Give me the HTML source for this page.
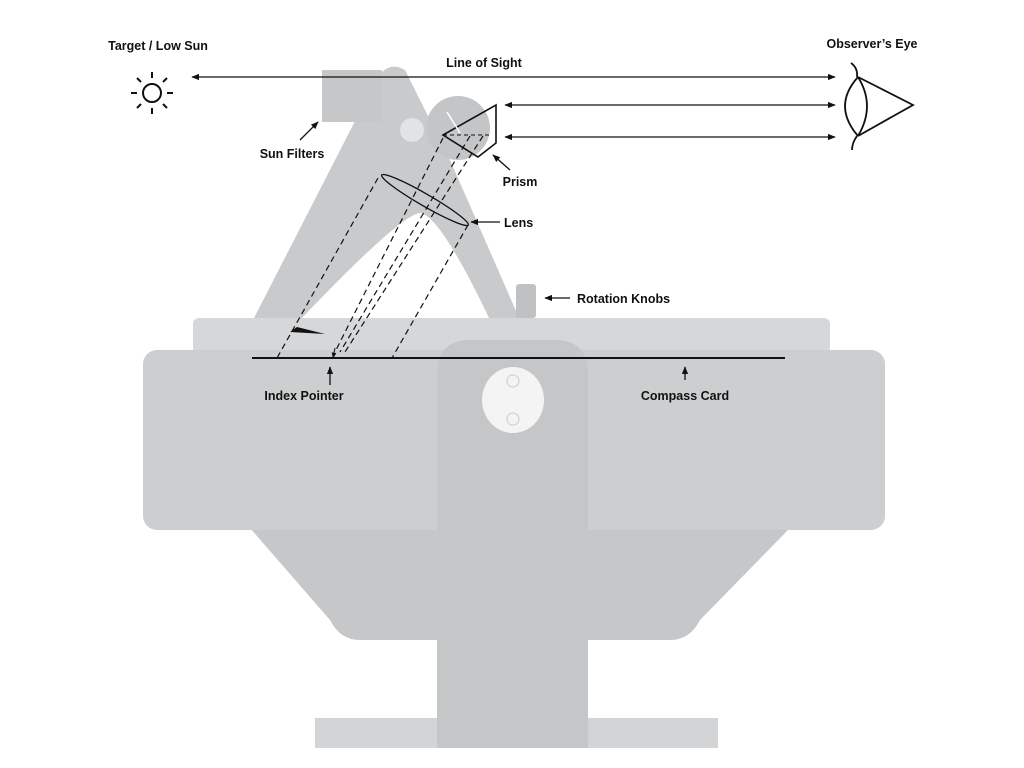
<!DOCTYPE html>
<html><head><style>
html,body{margin:0;padding:0;background:#fff;}
svg{display:block;}
text{font-family:"Liberation Sans",sans-serif;font-weight:bold;font-size:12.5px;fill:#111;}
</style></head><body>
<svg width="1024" height="768" viewBox="0 0 1024 768">
<defs>
<marker id="ah" viewBox="0 0 10 10" refX="9" refY="5" markerWidth="6" markerHeight="6" orient="auto-start-reverse"><path d="M0,1 L10,5 L0,9 z" fill="#111"/></marker>
</defs>
<!-- arm frame -->
<path d="M253,320 L372,88 Q385,58 405,70 L450,160 L520,320 L490,320 Q440,215 420,213 Q400,215 300,320 Z" fill="#c9cacb"/>
<rect x="322" y="70" width="60" height="52" fill="#c6c7c8"/>
<circle cx="458" cy="128" r="32" fill="#c4c5c6"/>
<circle cx="412" cy="130" r="12" fill="#e2e3e4"/>
<rect x="516" y="284" width="20" height="34" rx="3" fill="#c0c1c2"/>
<!-- body -->
<rect x="193" y="318" width="637" height="36" rx="6" fill="#d6d7d8"/>
<path d="M250,528 L790,528 L700,620 Q690,640 670,640 L360,640 Q340,640 330,620 Z" fill="#c6c7c8"/>
<rect x="143" y="350" width="742" height="180" rx="14" fill="#cdcecf"/>
<rect x="315" y="718" width="403" height="30" fill="#d3d4d5"/>
<path d="M437,748 L437,375 Q437,340 470,340 L555,340 Q588,340 588,375 L588,748 Z" fill="#c5c6c7"/>
<ellipse cx="513" cy="400" rx="31" ry="33" fill="#f4f4f4"/>
<circle cx="513" cy="381" r="6" fill="none" stroke="#ccc"/>
<circle cx="513" cy="419" r="6" fill="none" stroke="#ccc"/>
<!-- compass card line -->
<line x1="252" y1="358" x2="785" y2="358" stroke="#111" stroke-width="2"/>
<path d="M290,332 L297,327 L325,334 Z" fill="#111"/>
<!-- prism -->
<path d="M443,135 L496,105 L496,143 L478,157 Z" fill="none" stroke="#111" stroke-width="1.6"/>
<line x1="443" y1="135" x2="492" y2="135" stroke="#111" stroke-dasharray="4,3"/>
<line x1="447" y1="112" x2="460" y2="133" stroke="#fff" stroke-width="1.5"/>
<!-- lens -->
<ellipse cx="425" cy="200" rx="50" ry="6" transform="rotate(30 425 200)" fill="none" stroke="#111" stroke-width="1.3"/>
<!-- dashed rays -->
<g stroke="#111" stroke-width="1.2" stroke-dasharray="6,4" fill="none">
<line x1="378" y1="178" x2="277" y2="358"/>
<line x1="468" y1="225" x2="392" y2="358"/>
<line x1="443" y1="138" x2="335" y2="352"/>
<line x1="470" y1="136" x2="340" y2="352"/>
<line x1="483" y1="136" x2="345" y2="352"/>
</g>
<line x1="335" y1="348" x2="333" y2="358" stroke="#111" marker-end="url(#ah)"/>
<!-- sight lines -->
<g stroke="#111" stroke-width="1.3">
<line x1="192" y1="77" x2="835" y2="77" marker-start="url(#ah)" marker-end="url(#ah)"/>
<line x1="505" y1="105" x2="835" y2="105" marker-start="url(#ah)" marker-end="url(#ah)"/>
<line x1="505" y1="137" x2="835" y2="137" marker-start="url(#ah)" marker-end="url(#ah)"/>
<line x1="300" y1="140" x2="318" y2="122" marker-end="url(#ah)"/>
<line x1="510" y1="170" x2="493" y2="155" marker-end="url(#ah)"/>
<line x1="500" y1="222" x2="471" y2="222" marker-end="url(#ah)"/>
<line x1="570" y1="298" x2="545" y2="298" marker-end="url(#ah)"/>
<line x1="330" y1="385" x2="330" y2="367" marker-end="url(#ah)"/>
<line x1="685" y1="380" x2="685" y2="367" marker-end="url(#ah)"/>
</g>
<!-- sun -->
<g stroke="#111" stroke-width="2" fill="none">
<circle cx="152" cy="93" r="9"/>
<line x1="152" y1="72" x2="152" y2="78"/><line x1="152" y1="108" x2="152" y2="114"/>
<line x1="131" y1="93" x2="137" y2="93"/><line x1="167" y1="93" x2="173" y2="93"/>
<line x1="137" y1="78" x2="141" y2="82"/><line x1="163" y1="104" x2="167" y2="108"/>
<line x1="167" y1="78" x2="163" y2="82"/><line x1="141" y1="104" x2="137" y2="108"/>
</g>
<!-- eye -->
<g stroke="#111" stroke-width="1.8" fill="none">
<path d="M858,77 L913,105 L858,136"/>
<path d="M858,77 Q832,106 858,136"/>
<path d="M858,77 Q876,106 858,136"/>
<path d="M851,63 Q858,68 857,77"/>
<path d="M857,136 Q852,143 852,150"/>
</g>
<!-- labels -->
<text x="158" y="50" text-anchor="middle">Target / Low Sun</text>
<text x="872" y="48" text-anchor="middle">Observer’s Eye</text>
<text x="484" y="67" text-anchor="middle">Line of Sight</text>
<text x="292" y="158" text-anchor="middle">Sun Filters</text>
<text x="520" y="186" text-anchor="middle">Prism</text>
<text x="504" y="227">Lens</text>
<text x="577" y="303">Rotation Knobs</text>
<text x="304" y="400" text-anchor="middle">Index Pointer</text>
<text x="685" y="400" text-anchor="middle">Compass Card</text>
</svg>
</body></html>
